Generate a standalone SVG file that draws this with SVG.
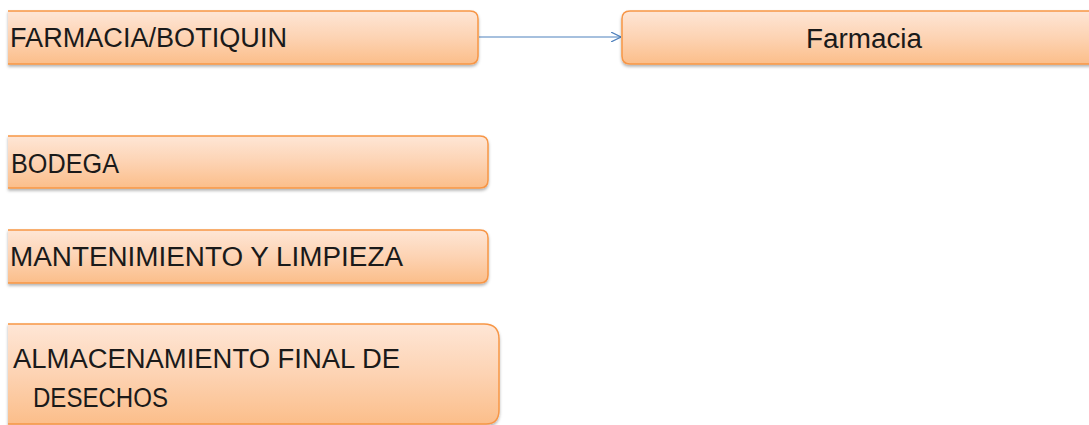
<svg xmlns="http://www.w3.org/2000/svg" width="1089" height="425" viewBox="0 0 1089 425">
<defs>
<linearGradient id="g" x1="0" y1="0" x2="0" y2="1">
<stop offset="0" stop-color="#FEE6D6"/>
<stop offset="0.5" stop-color="#FDD3B3"/>
<stop offset="1" stop-color="#FBBE8A"/>
</linearGradient>
<filter id="sh" x="-5%" y="-10%" width="110%" height="130%">
<feDropShadow dx="0" dy="2" stdDeviation="1.5" flood-color="#000" flood-opacity="0.3"/>
</filter>
<marker id="arr" viewBox="0 0 10 10" refX="10" refY="5" markerWidth="10" markerHeight="10" markerUnits="userSpaceOnUse" orient="auto">
<path d="M0,0 L10,5 L0,10" fill="none" stroke="#4F81BD" stroke-width="1.2"/>
</marker>
<style>
.box{fill:url(#g);stroke:#F79646;stroke-width:1.5;filter:url(#sh)}
.t{font-family:"Liberation Sans",Arial,sans-serif;font-size:27px;fill:#1a1a1a}
</style>
</defs>
<g id="connectors">
<line x1="479" y1="37" x2="621" y2="37" stroke="#4F81BD" stroke-width="1.2" marker-end="url(#arr)"/>
</g>
<g id="n1">
<path class="box" d="M8,11 H470 Q478,11 478,19 V56 Q478,64 470,64 H8"/>
<text class="t" x="10" y="47" textLength="277" lengthAdjust="spacingAndGlyphs">FARMACIA/BOTIQUIN</text>
</g>
<g id="n2">
<path class="box" d="M1092,11 H630 Q622,11 622,19 V56 Q622,64 630,64 H1092"/>
<text class="t" x="864" y="48" text-anchor="middle" textLength="116" lengthAdjust="spacingAndGlyphs">Farmacia</text>
</g>
<g id="n3">
<path class="box" d="M8,136 H480 Q488,136 488,144 V180 Q488,188 480,188 H8"/>
<text class="t" x="11" y="173" textLength="108" lengthAdjust="spacingAndGlyphs">BODEGA</text>
</g>
<g id="n4">
<path class="box" d="M8,230 H480 Q488,230 488,238 V275 Q488,283 480,283 H8"/>
<text class="t" x="10" y="266" textLength="393" lengthAdjust="spacingAndGlyphs">MANTENIMIENTO Y LIMPIEZA</text>
</g>
<g id="n5">
<path class="box" d="M8,324 H484 Q499,324 499,339 V410 Q499,424 486,424 H8"/>
<text class="t" x="13" y="368" textLength="387" lengthAdjust="spacingAndGlyphs">ALMACENAMIENTO FINAL DE</text>
<text class="t" x="33" y="407" textLength="135" lengthAdjust="spacingAndGlyphs">DESECHOS</text>
</g>
</svg>
